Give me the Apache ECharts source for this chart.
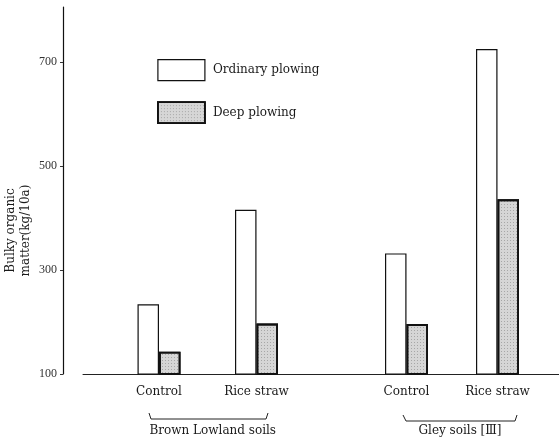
<!DOCTYPE html>
<html>
<head>
<meta charset="utf-8">
<script src="https://cdn.jsdelivr.net/npm/echarts@6/dist/echarts.min.js"></script>
<style>
  html, body { margin: 0; padding: 0; background: #fff; }
  #chart { width: 559px; height: 442px; }
</style>
</head>
<body>
<div id="chart"></div>
<script>
// Bulky organic matter (kg/10a) by soil type, treatment and plowing method
const soilGroups = ['Brown Lowland soils', 'Gley soils [Ⅲ]'];
const treatments = ['Control', 'Rice straw'];
const methods = ['Ordinary plowing', 'Deep plowing'];
const brownOrdinary = [234, 416];
const brownDeep = [143, 197];
const gleyOrdinary = [332, 725];
const gleyDeep = [196, 436];
const yTicks = [100, 300, 500, 700];

const serif = 'DejaVu Serif';
const ink = '#1a1a1a';

const ordinaryStyle = { color: '#ffffff', borderColor: '#111', borderWidth: 1.2 };
const deepStyle = {
  color: '#d6d6d6', borderColor: '#111', borderWidth: 1.8,
  decal: { symbol: 'rect', symbolSize: 1, color: 'rgba(0,0,0,0.22)', dashArrayX: [1, 2], dashArrayY: [1, 2], rotation: 0 }
};

const gridTop = 7, gridBottom = 68;
const yMin = 100, yMax = 806;

function gridBox(extra) {
  return Object.assign({ top: gridTop, bottom: gridBottom, outerBoundsMode: 'none', containLabel: false }, extra);
}
function hiddenY(gridIndex) {
  return { type: 'value', gridIndex, min: yMin, max: yMax, show: false, splitLine: { show: false } };
}
function groupX(gridIndex, name, shift) {
  return {
    type: 'category', gridIndex, data: treatments,
    axisLine: { show: false }, axisTick: { show: false },
    axisLabel: { margin: 12, fontFamily: serif, fontSize: 12, color: ink },
    name, nameLocation: 'middle', nameGap: 51, nameMoveOverlap: false,
    nameTextStyle: { fontFamily: serif, fontSize: 12, color: ink, padding: [0, 0, 0, shift] }
  };
}
function bars(name, values, style, axisIndex) {
  return {
    type: 'bar', name, data: values,
    xAxisIndex: axisIndex, yAxisIndex: axisIndex,
    barWidth: 21.5, barGap: '0%',
    itemStyle: style, emphasis: { disabled: true }, animation: false
  };
}

const chart = echarts.init(document.getElementById('chart'), null, { renderer: 'canvas' });
chart.setOption({
  backgroundColor: '#fff',
  animation: false,
  grid: [
    gridBox({ left: 83, right: 0 }),
    gridBox({ left: 110.25, width: 195 }),
    gridBox({ left: 361, width: 182 })
  ],
  xAxis: [
    { type: 'category', gridIndex: 0, data: [''],
      axisLine: { show: true, lineStyle: { color: '#222', width: 1 } },
      axisTick: { show: false }, axisLabel: { show: false } },
    groupX(1, soilGroups[0], 10),
    groupX(2, soilGroups[1], 16)
  ],
  yAxis: [
    {
      type: 'value', gridIndex: 0, min: yMin, max: yMax, offset: 20,
      axisLine: { show: true, lineStyle: { color: '#111', width: 1.2 } },
      axisTick: { show: true, length: 3, customValues: yTicks, lineStyle: { color: '#333' } },
      axisLabel: { customValues: yTicks, margin: 6, fontFamily: 'Liberation Serif', fontSize: 12, color: '#333' },
      splitLine: { show: false },
      name: 'Bulky organic\nmatter(kg/10a)', nameLocation: 'middle', nameRotate: 90, nameGap: 30,
      nameMoveOverlap: false,
      nameTextStyle: { fontFamily: serif, fontSize: 12, color: ink, lineHeight: 15, padding: [0, 80, 0, 0] }
    },
    hiddenY(1),
    hiddenY(2)
  ],
  legend: {
    orient: 'vertical', left: 157, top: 59, padding: 0,
    itemWidth: 47, itemHeight: 21, itemGap: 20, icon: 'rect',
    selectedMode: false,
    textStyle: { fontFamily: serif, fontSize: 12, color: ink, padding: [0, 0, 0, 3] },
    data: [
      { name: methods[0], itemStyle: ordinaryStyle },
      { name: methods[1], itemStyle: deepStyle }
    ]
  },
  series: [
    bars(methods[0], brownOrdinary, ordinaryStyle, 1),
    bars(methods[1], brownDeep, deepStyle, 1),
    bars(methods[0], gleyOrdinary, ordinaryStyle, 2),
    bars(methods[1], gleyDeep, deepStyle, 2)
  ],
  graphic: [
    { type: 'polyline', silent: true,
      shape: { points: [[149, 413], [151, 419], [266, 419], [268, 413]] },
      style: { stroke: '#222', lineWidth: 1, fill: null } },
    { type: 'polyline', silent: true,
      shape: { points: [[403, 415], [406, 421], [515, 421], [517, 415]] },
      style: { stroke: '#222', lineWidth: 1, fill: null } }
  ]
});
</script>
</body>
</html>
